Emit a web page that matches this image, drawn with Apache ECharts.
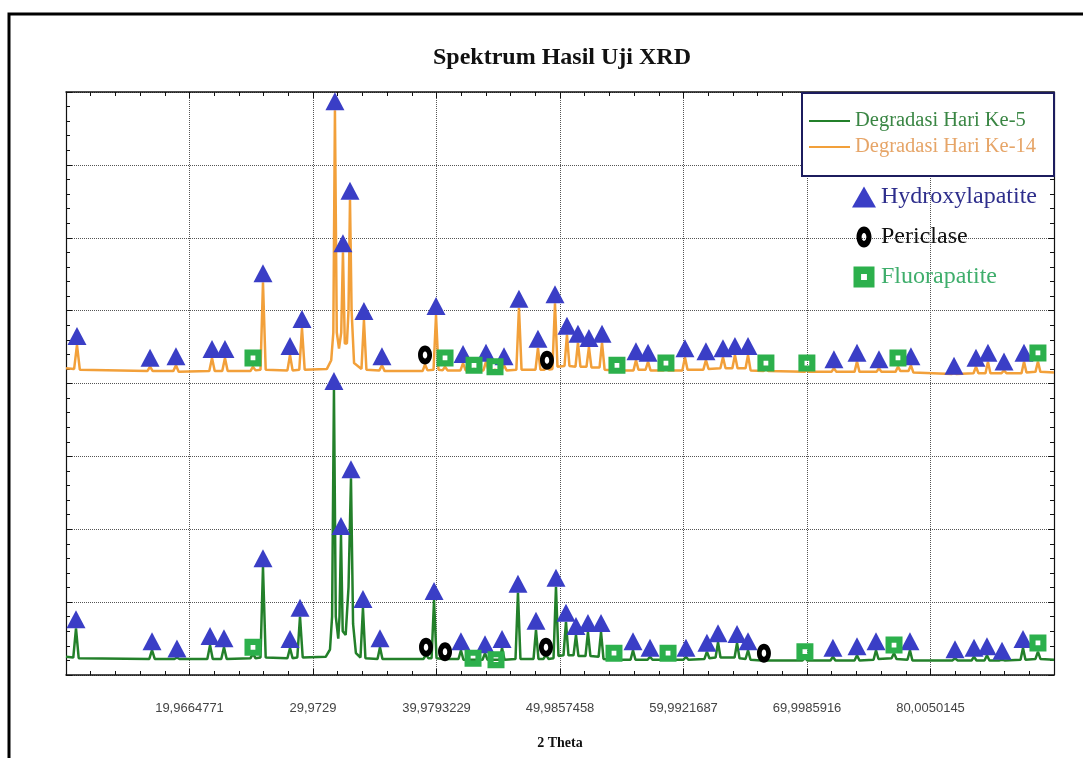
<!DOCTYPE html>
<html>
<head>
<meta charset="utf-8">
<title>Spektrum Hasil Uji XRD</title>
<script src="https://cdn.jsdelivr.net/npm/echarts@6/dist/echarts.min.js"></script>
<style>
  html, body { margin: 0; padding: 0; background: #fff; }
  #xrd-chart { width: 1083px; height: 758px; }
</style>
</head>
<body>
<div id="xrd-chart"></div>
<script>
// 2 theta grid: 8 divisions, labels only on the inner ones
const xTicks = [9.9600542, 19.9664771, 29.9729, 39.9793229, 49.9857458, 59.9921687, 69.9985916, 80.0050145, 90.0114374];
const xTickLabels = ['', '19,9664771', '29,9729', '39,9793229', '49,9857458', '59,9921687', '69,9985916', '80,0050145', ''];
const xStep = 10.0064229;

const seriesNames = ['Degradasi Hari Ke-5', 'Degradasi Hari Ke-14'];
const phaseNames = ['Hydroxylapatite', 'Periclase', 'Fluorapatite'];

// spectrum day 5 (lower trace), [2theta, intensity]
const lineHari5 = [
  [9.96, 25], [10.55, 24], [10.77, 64], [10.99, 23],
  [16.71, 22], [16.93, 34], [17.15, 22],
  [18.75, 22], [18.95, 24], [19.15, 22],
  [21.41, 22], [21.63, 41], [21.85, 22],
  [22.54, 22], [22.76, 38], [22.98, 22],
  [24.9, 23], [25.11, 29], [25.32, 23],
  [25.72, 24], [25.92, 148], [26.14, 24],
  [27.9, 23], [28.11, 37], [28.32, 23],
  [28.7, 24], [28.92, 80], [29.14, 24],
  [31.0, 25], [31.35, 35], [31.52, 80], [31.67, 391], [31.82, 80], [32.02, 50], [32.12, 80], [32.24, 192], [32.38, 60],
  [32.62, 55], [32.85, 120], [33.05, 270], [33.22, 70], [33.45, 30],
  [33.82, 24], [34.02, 92], [34.22, 23],
  [35.2, 22], [35.4, 38], [35.6, 22],
  [38.93, 22], [39.13, 28], [39.33, 23],
  [39.58, 23], [39.78, 103], [39.98, 23],
  [40.47, 22], [40.67, 26], [40.87, 22],
  [41.76, 22], [41.96, 34], [42.16, 21],
  [43.71, 21], [43.91, 30], [44.11, 21],
  [45.09, 21], [45.29, 37], [45.49, 21],
  [46.38, 22], [46.58, 113], [46.78, 22],
  [47.84, 22], [48.04, 62], [48.24, 22],
  [48.65, 22], [48.85, 28], [49.05, 22],
  [49.46, 23], [49.66, 121], [49.86, 26],
  [50.27, 27], [50.47, 73], [50.67, 27],
  [51.08, 27], [51.28, 55], [51.48, 26],
  [52.05, 26], [52.25, 59], [52.45, 26],
  [53.11, 25], [53.31, 59], [53.51, 22],
  [54.16, 21], [54.36, 25], [54.56, 21],
  [55.7, 21], [55.9, 34], [56.1, 21],
  [57.08, 21], [57.28, 25], [57.48, 21],
  [58.54, 21], [58.74, 25], [58.94, 21],
  [59.99, 21], [60.19, 25], [60.39, 21],
  [61.69, 22], [61.89, 32], [62.09, 23],
  [62.59, 24], [62.79, 45], [62.99, 24],
  [64.13, 24], [64.33, 44], [64.53, 23],
  [65.02, 22], [65.22, 34], [65.42, 21],
  [66.31, 20], [66.51, 22], [66.71, 20],
  [69.63, 20], [69.83, 24], [70.03, 20],
  [71.9, 20], [72.1, 25], [72.3, 20],
  [73.85, 20], [74.05, 27], [74.25, 20],
  [75.39, 21], [75.59, 34], [75.79, 22],
  [76.85, 23], [77.05, 30], [77.25, 22],
  [78.14, 21], [78.34, 34], [78.54, 20],
  [81.79, 20], [81.99, 23], [82.19, 20],
  [83.33, 20], [83.53, 25], [83.73, 20],
  [84.38, 20], [84.58, 27], [84.78, 20],
  [85.6, 20], [85.8, 21], [86.0, 20],
  [87.3, 21], [87.5, 37], [87.7, 21],
  [88.51, 22], [88.71, 32], [88.91, 22],
  [90.01, 21]
];

// spectrum day 14 (upper trace)
const lineHari14 = [
  [9.96, 421], [10.62, 420], [10.85, 453], [11.08, 419],
  [16.55, 417], [16.77, 423], [16.99, 417],
  [18.65, 417], [18.87, 425], [19.09, 416],
  [21.57, 417], [21.79, 435], [22.01, 417],
  [22.62, 417], [22.84, 435], [23.06, 417],
  [24.9, 417], [25.11, 423], [25.32, 418],
  [25.72, 419], [25.92, 539], [26.14, 419],
  [27.9, 418], [28.11, 439], [28.32, 418],
  [28.86, 419], [29.08, 476], [29.3, 419],
  [31.1, 420], [31.45, 432], [31.62, 470], [31.75, 775], [31.9, 470], [32.08, 448], [32.26, 470], [32.4, 580], [32.55, 455],
  [32.72, 455], [32.85, 500], [32.97, 652], [33.1, 500], [33.3, 428],
  [33.9, 420], [34.1, 487], [34.3, 419],
  [35.35, 418], [35.56, 425], [35.78, 417],
  [38.85, 417], [39.05, 426], [39.25, 418],
  [39.74, 419], [39.94, 494], [40.14, 419],
  [40.47, 418], [40.67, 423], [40.87, 418],
  [41.92, 418], [42.13, 428], [42.34, 418],
  [42.82, 418], [43.02, 420], [43.22, 418],
  [43.78, 418], [43.99, 430], [44.2, 418],
  [44.52, 418], [44.72, 419], [44.92, 418],
  [45.24, 418], [45.45, 425], [45.66, 418],
  [46.45, 419], [46.66, 504], [46.87, 419],
  [48.0, 419], [48.2, 449], [48.4, 419],
  [48.73, 419], [48.93, 422], [49.13, 419],
  [49.37, 420], [49.58, 510], [49.78, 423],
  [50.35, 424], [50.55, 467], [50.75, 424],
  [51.24, 423], [51.44, 456], [51.64, 423],
  [52.13, 423], [52.33, 450], [52.53, 422],
  [53.19, 422], [53.39, 456], [53.6, 419],
  [54.4, 418], [54.6, 419], [54.8, 418],
  [55.94, 418], [56.14, 432], [56.34, 419],
  [56.92, 419], [57.12, 430], [57.32, 418],
  [58.37, 418], [58.57, 420], [58.77, 418],
  [59.9, 418], [60.11, 436], [60.32, 419],
  [61.6, 419], [61.81, 432], [62.02, 420],
  [62.98, 421], [63.19, 436], [63.4, 421],
  [63.95, 421], [64.16, 439], [64.37, 421],
  [65.02, 421], [65.22, 439], [65.43, 418],
  [66.47, 417], [66.67, 420], [66.87, 417],
  [69.79, 416], [69.99, 418], [70.19, 416],
  [71.98, 416], [72.18, 421], [72.38, 416],
  [73.85, 416], [74.05, 430], [74.25, 416],
  [75.63, 416], [75.83, 421], [76.03, 416],
  [77.17, 416], [77.37, 423], [77.57, 417],
  [78.22, 417], [78.42, 425], [78.62, 415],
  [81.71, 413], [81.91, 414], [82.11, 413],
  [83.49, 414], [83.69, 423], [83.89, 414],
  [84.46, 414], [84.66, 430], [84.86, 414],
  [85.76, 414], [85.96, 418], [86.16, 414],
  [87.38, 414], [87.58, 430], [87.78, 415],
  [88.51, 416], [88.71, 430], [88.91, 416],
  [90.01, 415]
];

// phase markers, day 5
const hapHari5 = [[10.77, 64], [16.93, 34], [18.95, 24], [21.63, 41], [22.76, 38], [25.92, 148], [28.11, 37], [28.92, 80],
  [31.67, 391], [32.24, 192], [33.05, 270], [34.02, 92], [35.4, 38], [39.78, 103], [41.96, 34], [43.91, 30], [45.29, 37],
  [46.58, 113], [48.04, 62], [49.66, 121], [50.47, 73], [51.28, 55], [52.25, 59], [53.31, 59], [55.9, 34], [57.28, 25],
  [60.19, 25], [61.89, 32], [62.79, 45], [64.33, 44], [65.22, 34], [72.1, 25], [74.05, 27], [75.59, 34], [78.34, 34],
  [81.99, 23], [83.53, 25], [84.58, 27], [85.8, 21], [87.5, 37]];
const perHari5 = [[39.13, 38], [40.67, 32], [48.85, 38], [66.51, 30]];
const fapHari5 = [[25.11, 38], [42.94, 23], [44.8, 21], [54.36, 30], [58.74, 30], [69.83, 32], [77.05, 41], [88.71, 44]];

// phase markers, day 14
const hapHari14 = [[10.85, 453], [16.77, 423], [18.87, 425], [21.79, 435], [22.84, 435], [25.92, 539], [28.11, 439], [29.08, 476],
  [31.75, 775], [32.4, 580], [32.97, 652], [34.1, 487], [35.56, 425], [39.94, 494], [42.13, 428], [43.99, 430], [45.45, 425],
  [46.66, 504], [48.2, 449], [49.58, 510], [50.55, 467], [51.44, 456], [52.33, 450], [53.39, 456], [56.14, 432], [57.12, 430],
  [60.11, 436], [61.81, 432], [63.19, 436], [64.16, 439], [65.22, 439], [72.18, 421], [74.05, 430], [75.83, 421], [78.42, 425],
  [81.91, 412], [83.69, 423], [84.66, 430], [85.96, 418], [87.58, 430]];
const perHari14 = [[39.05, 439], [48.93, 432]];
const fapHari14 = [[25.11, 435], [40.67, 435], [43.02, 425], [44.72, 423], [54.6, 425], [58.57, 428], [66.67, 428], [69.99, 428],
  [77.37, 435], [88.71, 442]];

// thick black ring (periclase) and green square with small hole (fluorapatite)
const ringEllipse = 'path://M5,0C7.76,0,10,3.13,10,7C10,10.87,7.76,14,5,14C2.24,14,0,10.87,0,7C0,3.13,2.24,0,5,0Z'
  + 'M5,4.4C4.12,4.4,3.4,5.56,3.4,7C3.4,8.44,4.12,9.6,5,9.6C5.88,9.6,6.6,8.44,6.6,7C6.6,5.56,5.88,4.4,5,4.4Z';
const ringSquare = 'path://M0,0H10V10H0ZM3.6,3.6V6.4H6.4V3.6Z';

const chart = echarts.init(document.getElementById('xrd-chart'));

const gridLine = { show: true, lineStyle: { color: '#555', type: 'dotted', width: 1 } };

function xAxisBase(pos) {
  return {
    type: 'value',
    position: pos,
    min: xTicks[0],
    max: xTicks[xTicks.length - 1],
    interval: xStep,
    axisLine: { show: true, onZero: false, lineStyle: { color: '#111', width: 1.5 } },
    axisTick: { show: true, inside: true, length: 6, lineStyle: { color: '#111' } },
    minorTick: { show: true, splitNumber: 5, length: 4, lineStyle: { color: '#111' } },
    splitLine: { show: false }
  };
}

function yAxisBase(pos) {
  return {
    type: 'value',
    position: pos,
    min: 0,
    max: 800,
    interval: 100,
    axisLine: { show: true, onZero: false, lineStyle: { color: '#111', width: 1.2 } },
    axisTick: { show: true, inside: true, length: 6, lineStyle: { color: '#111' } },
    minorTick: { show: true, splitNumber: 5, length: 4, lineStyle: { color: '#111' } },
    axisLabel: { show: false },
    splitLine: { show: false }
  };
}

const xBottom = Object.assign(xAxisBase('bottom'), {
  name: '2 Theta',
  nameLocation: 'middle',
  nameGap: 61,
  nameTextStyle: { fontFamily: 'Liberation Serif', fontWeight: 'bold', fontSize: 14, color: '#111' },
  splitLine: gridLine,
  axisLabel: {
    show: true,
    margin: 27,
    fontFamily: 'Liberation Sans',
    fontSize: 13,
    color: '#444',
    formatter: function (value) {
      const idx = Math.round((value - xTicks[0]) / xStep);
      return xTickLabels[idx] || '';
    }
  }
});
const xTop = Object.assign(xAxisBase('top'), { axisLabel: { show: false } });
const yLeft = Object.assign(yAxisBase('left'), { splitLine: gridLine });
const yRight = yAxisBase('right');

chart.setOption({
  animation: false,
  backgroundColor: '#fff',
  title: {
    text: 'Spektrum Hasil Uji XRD',
    left: 433,
    top: 46,
    padding: 0,
    textStyle: { fontFamily: 'Liberation Serif', fontWeight: 'bold', fontSize: 24, color: '#111' }
  },
  grid: { left: 66, right: 29, top: 92, bottom: 83 },
  xAxis: [xBottom, xTop],
  yAxis: [yLeft, yRight],
  legend: [
    {
      data: [
        { name: seriesNames[0], icon: 'rect', textStyle: { color: '#3a8644' } },
        { name: seriesNames[1], icon: 'rect', textStyle: { color: '#e6a568' } }
      ],
      orient: 'vertical',
      left: 802,
      top: 93,
      padding: [17, 18, 18, 7],
      itemGap: 4,
      itemWidth: 41,
      itemHeight: 2,
      backgroundColor: '#fff',
      borderColor: '#1c1c5e',
      borderWidth: 2,
      textStyle: { fontFamily: 'Liberation Serif', fontSize: 20.5, lineHeight: 22 }
    },
    {
      data: [
        { name: phaseNames[0], textStyle: { color: '#2e2e8c' } },
        { name: phaseNames[1], textStyle: { color: '#111' } },
        { name: phaseNames[2], textStyle: { color: '#3fae6c' } }
      ],
      orient: 'vertical',
      left: 852,
      top: 183,
      padding: 0,
      itemGap: 12,
      itemWidth: 24,
      itemHeight: 21,
      symbolKeepAspect: true,
      textStyle: { fontFamily: 'Liberation Serif', fontSize: 24, lineHeight: 28 }
    }
  ],
  graphic: [
    {
      type: 'rect',
      z: -10,
      silent: true,
      shape: { x: 9, y: 14, width: 1100, height: 800 },
      style: { fill: 'none', stroke: '#000', lineWidth: 3 }
    }
  ],
  series: [
    {
      name: seriesNames[0],
      type: 'line',
      symbol: 'none',
      data: lineHari5,
      lineStyle: { color: '#23802a', width: 2.5 },
      itemStyle: { color: '#23802a' },
      z: 2
    },
    {
      name: seriesNames[1],
      type: 'line',
      symbol: 'none',
      data: lineHari14,
      lineStyle: { color: '#f2a03a', width: 2.5 },
      itemStyle: { color: '#f2a03a' },
      z: 2
    },
    {
      name: phaseNames[0],
      type: 'scatter',
      symbol: 'triangle',
      symbolSize: [19, 18],
      symbolOffset: [0, '-50%'],
      data: hapHari5.concat(hapHari14),
      itemStyle: { color: '#3a3ec6', opacity: 1 },
      z: 4
    },
    {
      name: phaseNames[1],
      type: 'scatter',
      symbol: ringEllipse,
      symbolKeepAspect: false,
      symbolSize: [14, 19],
      data: perHari5.concat(perHari14),
      itemStyle: { color: '#000', opacity: 1 },
      z: 4
    },
    {
      name: phaseNames[2],
      type: 'scatter',
      symbol: ringSquare,
      symbolKeepAspect: false,
      symbolSize: 17,
      data: fapHari5.concat(fapHari14),
      itemStyle: { color: '#2cb04c', opacity: 1 },
      z: 4
    }
  ]
});
</script>
</body>
</html>
